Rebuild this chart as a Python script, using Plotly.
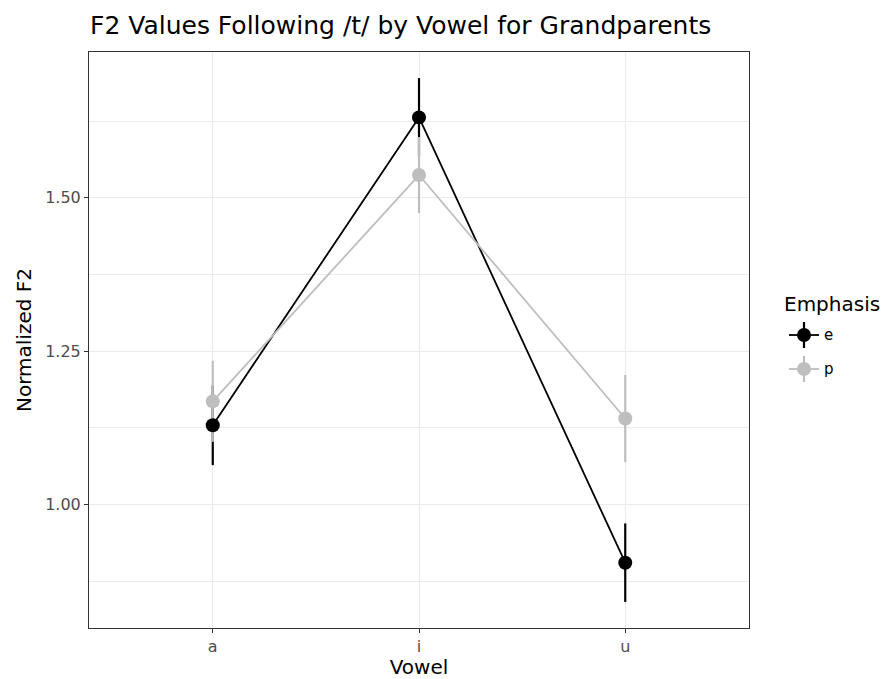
import plotly.graph_objects as go

# Mean normalized F2 (with standard errors) after /t/, by vowel and emphasis
vowels = ["a", "i", "u"]
e_mean = [1.129, 1.631, 0.905]
e_se = [0.065, 0.064, 0.064]
p_mean = [1.168, 1.537, 1.140]
p_se = [0.066, 0.062, 0.071]

groups = ["e", "p"]
colors = {"e": "#000000", "p": "#BEBEBE"}
means = {"e": e_mean, "p": p_mean}
ses = {"e": e_se, "p": p_se}

FONT = "DejaVu Sans, Liberation Sans, Arial, sans-serif"
W, H = 890, 679
L, R, T, B = 89, 141, 52, 51

fig = go.Figure()

# error ranges first, so every point sits above every range
for g in groups:
    fig.add_trace(go.Scatter(
        x=vowels, y=means[g], mode="markers",
        marker=dict(size=1, opacity=0),
        error_y=dict(type="data", array=ses[g], color=colors[g],
                     thickness=2.2, width=0),
        showlegend=False, hoverinfo="skip",
    ))

# connecting lines and points
for g in groups:
    fig.add_trace(go.Scatter(
        x=vowels, y=means[g], mode="lines+markers", name=g,
        line=dict(color=colors[g], width=1.8),
        marker=dict(color=colors[g], size=14),
        showlegend=False,
    ))

# hand-built legend keys (line + range + point)
pw, ph = W - L - R, H - T - B
def px(x):
    return (x - L) / pw
def py(y):
    return (H - B - y) / ph

shapes = []
annotations = []
for i, g in enumerate(groups):
    cx, cy = px(804), py(335 + 34 * i)
    c = colors[g]
    shapes.append(dict(type="line", xref="paper", yref="paper",
                       xsizemode="pixel", ysizemode="pixel", xanchor=cx, yanchor=cy,
                       x0=-15, x1=15, y0=0, y1=0, line=dict(color=c, width=1.8)))
    shapes.append(dict(type="line", xref="paper", yref="paper",
                       xsizemode="pixel", ysizemode="pixel", xanchor=cx, yanchor=cy,
                       x0=0, x1=0, y0=-13, y1=13, line=dict(color=c, width=2.2)))
    shapes.append(dict(type="circle", xref="paper", yref="paper",
                       xsizemode="pixel", ysizemode="pixel", xanchor=cx, yanchor=cy,
                       x0=-7, x1=7, y0=-7, y1=7,
                       fillcolor=c, line=dict(color=c, width=0)))
    annotations.append(dict(text=g, xref="paper", yref="paper",
                            x=px(822), y=cy, xanchor="left", yanchor="middle",
                            showarrow=False, font=dict(family=FONT, size=15, color="#000000")))

annotations.append(dict(text="Emphasis", xref="paper", yref="paper",
                        x=px(782), y=py(304), xanchor="left", yanchor="middle",
                        showarrow=False, font=dict(family=FONT, size=20, color="#000000")))

fig.update_layout(
    width=W, height=H,
    margin=dict(l=L, r=R, t=T, b=B, autoexpand=False),
    paper_bgcolor="white", plot_bgcolor="white",
    font=dict(family=FONT),
    title=dict(text="F2 Values Following /t/ by Vowel for Grandparents",
               x=90 / W, xanchor="left", xref="container",
               y=1 - 25 / H, yanchor="middle", yref="container",
               font=dict(family=FONT, size=25, color="#000000")),
    xaxis=dict(
        type="category", categoryorder="array", categoryarray=vowels,
        range=[-0.6, 2.6], automargin=False,
        showgrid=True, gridcolor="#EBEBEB", gridwidth=1.2,
        showline=True, linecolor="#333333", linewidth=1, mirror=True,
        ticks="outside", ticklen=4, tickcolor="#333333", tickwidth=1,
        tickfont=dict(family=FONT, size=16, color="#4D4D4D"),
        title=dict(text="Vowel", standoff=6,
                   font=dict(family=FONT, size=20, color="#000000")),
        zeroline=False,
    ),
    yaxis=dict(
        range=[0.7985, 1.7376], automargin=False,
        tickvals=[1.00, 1.25, 1.50], ticktext=["1.00", "1.25", "1.50"],
        showgrid=True, gridcolor="#EBEBEB", gridwidth=1.2,
        minor=dict(tickvals=[0.875, 1.125, 1.375, 1.625], showgrid=True,
                   gridcolor="#EBEBEB", gridwidth=0.8, ticks=""),
        showline=True, linecolor="#333333", linewidth=1, mirror=True,
        ticks="outside", ticklen=4, tickcolor="#333333", tickwidth=1,
        tickfont=dict(family=FONT, size=16, color="#4D4D4D"),
        title=dict(text="Normalized F2", standoff=8,
                   font=dict(family=FONT, size=20, color="#000000")),
        zeroline=False,
    ),
    shapes=shapes,
    annotations=annotations,
)

fig.write_html("out.html")
